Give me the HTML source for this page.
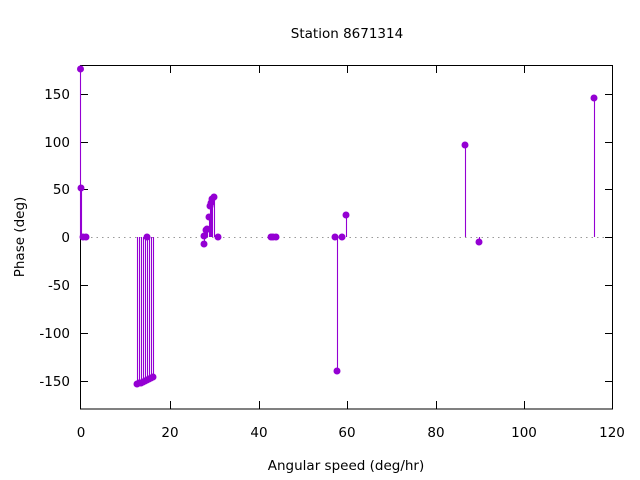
<!DOCTYPE html>
<html><head><style>body{margin:0;background:#fff}svg{display:block}</style></head>
<body>
<svg width="640" height="480" xmlns="http://www.w3.org/2000/svg" font-family="DejaVu Sans, Liberation Sans, sans-serif" font-size="13.5">
<rect width="640" height="480" fill="#fff"/>
<text x="347" y="38" text-anchor="middle">Station 8671314</text>
<line x1="80" y1="237.5" x2="612" y2="237.5" stroke="#999" stroke-dasharray="1.5,4"/>
<g stroke="#000" stroke-width="1" shape-rendering="crispEdges">
<rect x="80.5" y="65.5" width="532" height="343.5" fill="none"/>
<line x1="80" y1="94.5" x2="88" y2="94.5"/><line x1="605" y1="94.5" x2="612" y2="94.5"/>
<line x1="80" y1="142.5" x2="88" y2="142.5"/><line x1="605" y1="142.5" x2="612" y2="142.5"/>
<line x1="80" y1="189.5" x2="88" y2="189.5"/><line x1="605" y1="189.5" x2="612" y2="189.5"/>
<line x1="80" y1="237.5" x2="88" y2="237.5"/><line x1="605" y1="237.5" x2="612" y2="237.5"/>
<line x1="80" y1="285.5" x2="88" y2="285.5"/><line x1="605" y1="285.5" x2="612" y2="285.5"/>
<line x1="80" y1="333.5" x2="88" y2="333.5"/><line x1="605" y1="333.5" x2="612" y2="333.5"/>
<line x1="80" y1="381.5" x2="88" y2="381.5"/><line x1="605" y1="381.5" x2="612" y2="381.5"/>
<line x1="170.5" y1="409" x2="170.5" y2="401"/><line x1="170.5" y1="65" x2="170.5" y2="73"/>
<line x1="259.5" y1="409" x2="259.5" y2="401"/><line x1="259.5" y1="65" x2="259.5" y2="73"/>
<line x1="347.5" y1="409" x2="347.5" y2="401"/><line x1="347.5" y1="65" x2="347.5" y2="73"/>
<line x1="436.5" y1="409" x2="436.5" y2="401"/><line x1="436.5" y1="65" x2="436.5" y2="73"/>
<line x1="524.5" y1="409" x2="524.5" y2="401"/><line x1="524.5" y1="65" x2="524.5" y2="73"/>
</g>
<g text-anchor="end">
<text x="70" y="99">150</text><text x="70" y="147">100</text><text x="70" y="194">50</text>
<text x="70" y="242">0</text><text x="70" y="290">-50</text><text x="70" y="338">-100</text><text x="70" y="386">-150</text>
</g>
<g text-anchor="middle">
<text x="81" y="437">0</text><text x="170" y="437">20</text><text x="259" y="437">40</text>
<text x="347" y="437">60</text><text x="436" y="437">80</text><text x="524" y="437">100</text><text x="612" y="437">120</text>
<text x="346" y="470">Angular speed (deg/hr)</text>
<text transform="translate(24,237) rotate(-90)">Phase (deg)</text>
</g>
<g stroke="#9400d3" stroke-width="1.1" transform="translate(0.5,0)">
<line x1="80" y1="237" x2="80" y2="69"/><line x1="81" y1="237" x2="81" y2="188"/>
<line x1="137" y1="237" x2="137" y2="384"/><line x1="139" y1="237" x2="139" y2="383"/>
<line x1="141" y1="237" x2="141" y2="383"/><line x1="143" y1="237" x2="143" y2="382"/>
<line x1="145" y1="237" x2="145" y2="381"/><line x1="147" y1="237" x2="147" y2="380"/>
<line x1="149" y1="237" x2="149" y2="379"/><line x1="151" y1="237" x2="151" y2="378"/>
<line x1="153" y1="237" x2="153" y2="377"/>
<line x1="204" y1="237" x2="204" y2="244"/><line x1="206" y1="237" x2="206" y2="230"/>
<line x1="207" y1="237" x2="207" y2="229"/><line x1="209" y1="237" x2="209" y2="217"/>
<line x1="210" y1="237" x2="210" y2="206"/><line x1="211" y1="237" x2="211" y2="203"/>
<line x1="212" y1="237" x2="212" y2="199"/><line x1="214" y1="237" x2="214" y2="197"/>
<line x1="337" y1="237" x2="337" y2="371"/><line x1="346" y1="237" x2="346" y2="215"/>
<line x1="465" y1="237" x2="465" y2="145"/><line x1="479" y1="237" x2="479" y2="242"/>
<line x1="594" y1="237" x2="594" y2="98"/>
</g>
<g fill="#9400d3">
<circle cx="80.5" cy="69" r="3.5"/><circle cx="81" cy="188" r="3.5"/><circle cx="83" cy="237" r="3.5"/><circle cx="86" cy="237" r="3.5"/>
<circle cx="137" cy="384" r="3.5"/><circle cx="139" cy="383" r="3.5"/><circle cx="141" cy="383" r="3.5"/><circle cx="143" cy="382" r="3.5"/>
<circle cx="145" cy="381" r="3.5"/><circle cx="147" cy="380" r="3.5"/><circle cx="149" cy="379" r="3.5"/><circle cx="151" cy="378" r="3.5"/><circle cx="153" cy="377" r="3.5"/>
<circle cx="147" cy="237" r="3.5"/>
<circle cx="204" cy="244" r="3.5"/><circle cx="204" cy="236" r="3.5"/><circle cx="206" cy="230" r="3.5"/><circle cx="207" cy="229" r="3.5"/>
<circle cx="209" cy="217" r="3.5"/><circle cx="210" cy="206" r="3.5"/><circle cx="211" cy="203" r="3.5"/><circle cx="212" cy="199" r="3.5"/><circle cx="214" cy="197" r="3.5"/>
<circle cx="218" cy="237" r="3.5"/>
<circle cx="271" cy="237" r="3.5"/><circle cx="273" cy="237" r="3.5"/><circle cx="276" cy="237" r="3.5"/>
<circle cx="335" cy="237" r="3.5"/><circle cx="337" cy="371" r="3.5"/><circle cx="342" cy="237" r="3.5"/><circle cx="346" cy="215" r="3.5"/>
<circle cx="465" cy="145" r="3.5"/><circle cx="479" cy="242" r="3.5"/><circle cx="594" cy="98" r="3.5"/>
</g>
</svg>
</body></html>
